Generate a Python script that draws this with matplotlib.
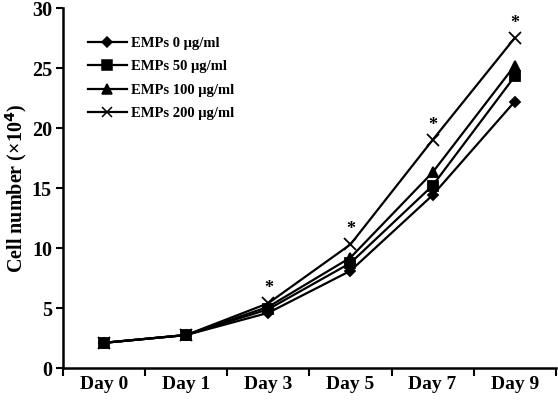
import numpy as np
import matplotlib.pyplot as plt
from matplotlib.lines import Line2D

days = ["Day 0", "Day 1", "Day 3", "Day 5", "Day 7", "Day 9"]
emp0 = [2.1, 2.75, 4.6, 8.1, 14.4, 22.2]
emp50 = [2.1, 2.75, 4.9, 8.75, 15.2, 24.3]
emp100 = [2.1, 2.75, 5.1, 9.2, 16.3, 25.2]
emp200 = [2.1, 2.75, 5.4, 10.3, 19.0, 27.5]
labels = ["EMPs 0 \u03bcg/ml", "EMPs 50 \u03bcg/ml", "EMPs 100 \u03bcg/ml", "EMPs 200 \u03bcg/ml"]
signif = [False, False, True, True, True, True]

plt.rcParams['font.family'] = ['Liberation Serif', 'DejaVu Serif']
plt.rcParams['font.weight'] = 'bold'

fig = plt.figure(figsize=(5.58, 4.0), dpi=100)
ax = fig.add_axes([0.113, 0.08, 0.883, 0.9])

x = np.arange(len(days))
series = [emp0, emp50, emp100, emp200]
markers = ['D', 's', '^', 'x']
sizes = [5.5, 7, 7, 9]
leg_sizes = [5, 6.5, 6.5, 7]
handles = []
for vals, m, ms, lms, lab in zip(series, markers, sizes, leg_sizes, labels):
    ax.plot(x, vals, color='black', lw=1.6, marker=m, ms=ms, mew=1.3)
    handles.append(Line2D([], [], color='black', lw=1.6, marker=m, ms=lms, mew=1.1, label=lab))

for xi, v, s in zip(x, emp200, signif):
    if s:
        ax.text(xi, v + 0.5, '*', ha='center', va='bottom', fontsize=13)

ax.set_xlim(-0.5, 5.5)
ax.set_ylim(0, 30)
ax.set_yticks(range(0, 31, 5))
ax.set_xticks(x)
ax.set_xticklabels(days)
ax.set_xticks(np.arange(-0.5, 6, 1), minor=True)
ax.tick_params(axis='x', which='major', length=0, pad=6, labelsize=14)
ax.tick_params(axis='x', which='minor', length=6, width=1.5, direction='out')
ax.tick_params(axis='y', length=5, width=1.5, direction='out', labelsize=14.5, pad=3)
ax.set_ylabel("Cell number (\u00d710$^{\\mathbf{4}}$)", fontsize=14.5, fontweight='bold', labelpad=2)

for side in ['top', 'right']:
    ax.spines[side].set_visible(False)
for side in ['left', 'bottom']:
    ax.spines[side].set_linewidth(1.8)

ax.legend(handles=handles, loc='upper left', bbox_to_anchor=(0.05, 0.92), frameon=False,
          prop={'weight': 'bold', 'size': 10.5}, handlelength=2.7, borderpad=0,
          borderaxespad=0, handletextpad=0.3, labelspacing=0.7)

fig.savefig("out.png", dpi=100)
